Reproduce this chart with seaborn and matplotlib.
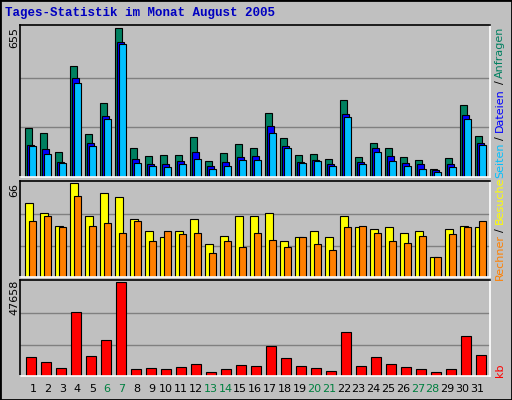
import matplotlib
matplotlib.use("Agg")
import matplotlib.pyplot as plt
import seaborn as sns
import numpy as np

days = list(range(1, 32))
day_labels = [str(d) for d in days]
weekend = [6, 7, 13, 14, 20, 21, 27, 28]
anfragen = [214,193,111,490,188,326,655,128,93,98,98,175,72,106,145,128,283,171,98,102,81,339,89,150,128,89,76,33,85,318,180]
dateien = [141,124,68,434,150,266,593,81,59,59,72,111,50,68,89,93,223,137,68,76,55,279,68,128,93,63,55,29,55,274,150]
seiten = [137,102,63,412,137,253,585,63,50,46,55,81,33,50,76,76,193,128,63,72,50,262,59,111,72,50,37,20,46,253,141]
besuche = [52,45,36,66,43,59,56,41,32,28,32,41,23,29,43,43,45,25,28,32,28,43,35,34,35,31,32,14,34,36,35]
rechner = [39,43,35,57,36,38,31,39,25,32,30,31,17,25,21,31,26,21,28,23,19,35,36,31,25,24,29,14,30,35,39]
kb = [9664,7165,4166,32656,10164,18161,47658,3666,4166,3666,4665,6165,2166,3666,5665,5165,15162,9164,5165,4166,2666,22160,5165,9664,6165,4665,3666,2166,3666,20161,10664]

sns.set_theme(style="white")
plt.rcParams['font.family'] = ['DejaVu Sans']
BG = "#C0C0C0"
fig = plt.figure(figsize=(5.12, 4.0), dpi=100, facecolor=BG)
W, H = 512, 400
x = np.array(days, dtype=float)
SLOT = 15.0

def mkax(top, bottom):
    ax = fig.add_axes([20/W, 1-bottom/H, 470/W, (bottom-top)/H])
    ax.set_facecolor(BG)
    ax.set_xlim(0.5, 0.5 + 470/SLOT)
    ax.set_xticks([]); ax.set_yticks([])
    for s in ["top", "left"]:
        ax.spines[s].set_color("black")
    for s in ["bottom", "right"]:
        ax.spines[s].set_color("white")
    for s in ax.spines.values():
        s.set_linewidth(1.2)
    return ax

def grid(ax, m):
    for f in (1/3, 2/3):
        ax.axhline(m*f, color="#808080", lw=1, zorder=0)
    ax.set_ylim(0, m*1.02)

ek = dict(edgecolor="black", linewidth=0.8, align="edge", zorder=2)
ax1 = mkax(25, 177)
grid(ax1, max(anfragen))
ax1.bar(x-0.17, anfragen, width=0.5, color="#008060", **ek)
ax1.bar(x-0.06, dateien, width=0.5, color="#0000FF", **ek)
ax1.bar(x+0.09, seiten, width=0.48, color="#00C0FF", **ek)

ax2 = mkax(181, 277)
grid(ax2, max(besuche))
ax2.bar(x-0.17, besuche, width=0.55, color="#FFFF00", **ek)
ax2.bar(x+0.09, rechner, width=0.48, color="#FF8000", **ek)

ax3 = mkax(280, 376)
grid(ax3, max(kb))
ax3.bar(x-0.1, kb, width=0.68, color="#FF0000", **ek)

def ft(px, py, s, **kw):
    fig.text(px/W, 1-py/H, s, **kw)

ft(5, 13, "Tages-Statistik im Monat August 2005", color="#0000C0",
   fontsize=9, fontweight="bold", family="Liberation Mono", va="center")
lk = dict(rotation=90, ha="center", va="center", fontsize=8)
ft(14, 38, str(max(anfragen)), color="black", **lk)
ft(14, 190, str(max(besuche)), color="black", **lk)
ft(14, 297, str(max(kb)), color="black", **lk)

ft(500, 160, "Seiten", color="#00C0FF", **lk)
ft(500, 138, "/", color="black", **lk)
ft(500, 110, "Dateien", color="#0000FF", **lk)
ft(500, 82, "/", color="black", **lk)
ft(500, 52, "Anfragen", color="#008060", **lk)
ft(500, 257, "Rechner", color="#FF8000", **lk)
ft(500, 230, "/", color="black", **lk)
ft(500, 200, "Besuche", color="#FFFF00", **lk)
ft(500, 370, "kb", color="#FF0000", **lk)

for d, lab in zip(days, day_labels):
    px = 33 + (d - 1) * 14.8
    ft(px, 389, lab, color="#008040" if d in weekend else "black",
       ha="center", va="center", fontsize=8)

fig.patches.append(plt.Rectangle((0, 0), 1, 1, transform=fig.transFigure,
                                 fill=False, edgecolor="black", lw=2))
fig.savefig("out.png", dpi=100, facecolor=BG)
